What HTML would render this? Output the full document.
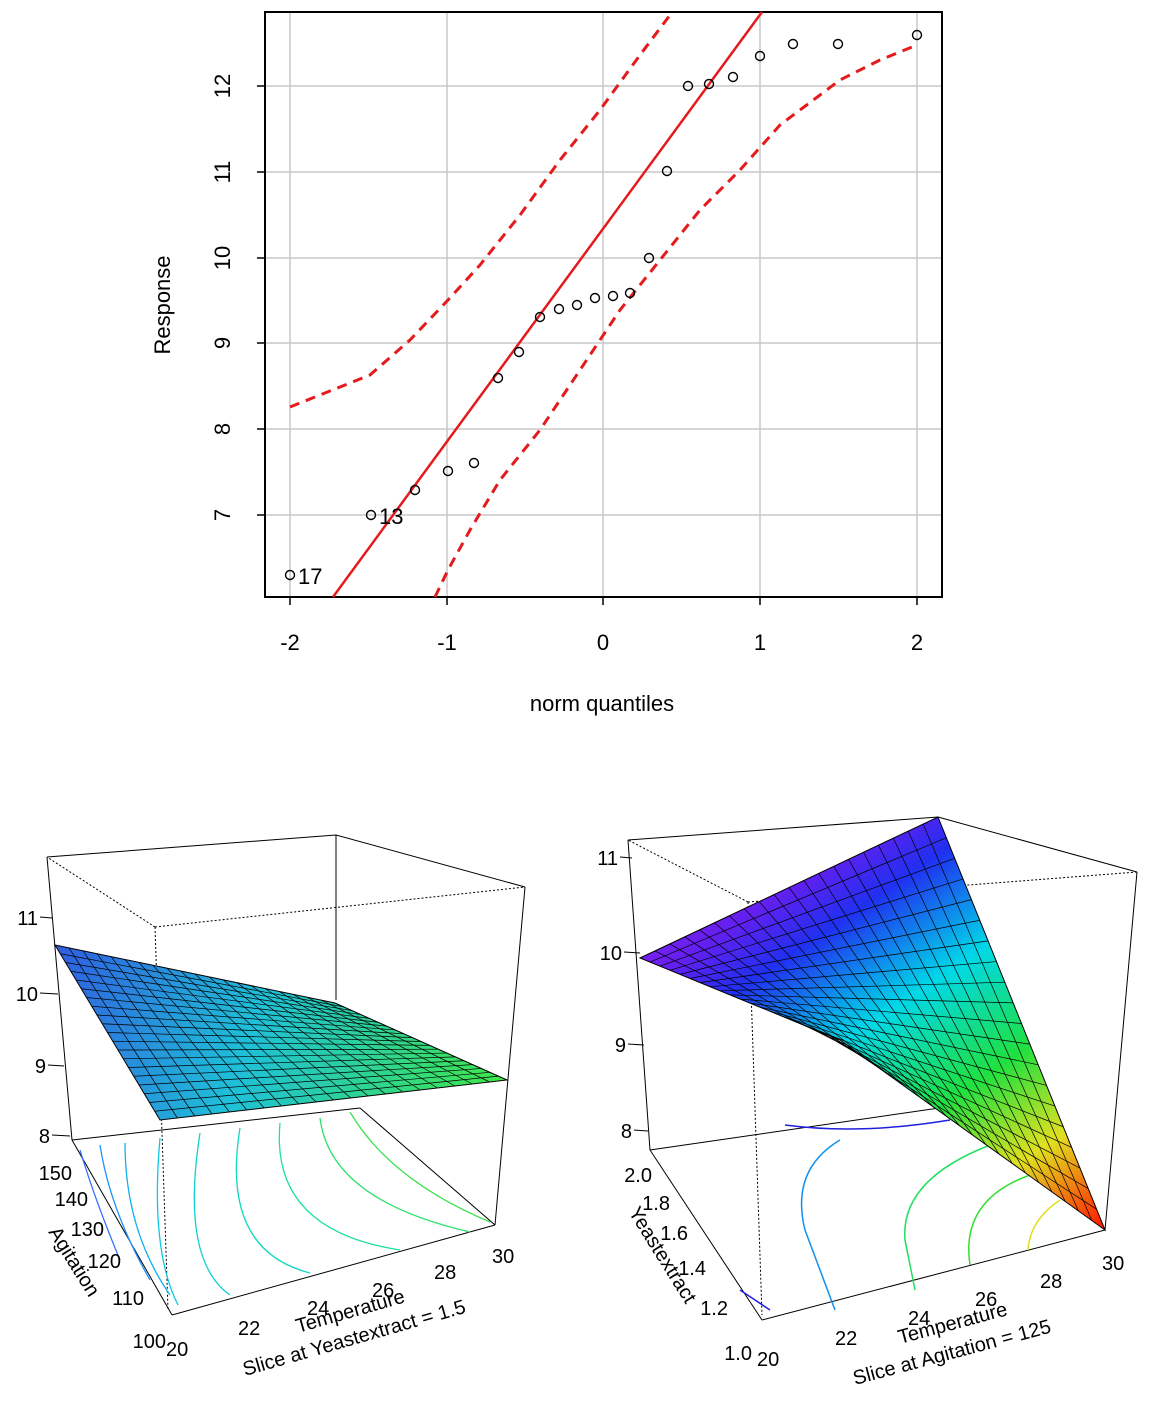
<!DOCTYPE html>
<html><head><meta charset="utf-8"><style>
html,body{margin:0;padding:0;background:#fff}
svg{display:block;font-family:"Liberation Sans",Arial,sans-serif}
</style></head><body>
<svg width="1170" height="1410" viewBox="0 0 1170 1410" xmlns="http://www.w3.org/2000/svg">
<defs>
<linearGradient id="gl" gradientUnits="userSpaceOnUse" x1="60" y1="950" x2="500" y2="1090">
<stop offset="0" stop-color="#2f5fe0"/><stop offset="0.45" stop-color="#1fc0d8"/><stop offset="1" stop-color="#3ee84a"/></linearGradient>
<linearGradient id="gr" gradientUnits="userSpaceOnUse" x1="800" y1="780" x2="1100" y2="1225">
<stop offset="0" stop-color="#a020f0"/><stop offset="0.16" stop-color="#6020f0"/><stop offset="0.26" stop-color="#2030f0"/><stop offset="0.45" stop-color="#00d8e8"/><stop offset="0.65" stop-color="#20e040"/><stop offset="0.82" stop-color="#e0e020"/><stop offset="1" stop-color="#ff2000"/></linearGradient>
</defs>
<g stroke="#c8c8c8" stroke-width="1.5">
<line x1="290" y1="12" x2="290" y2="597"/><line x1="447" y1="12" x2="447" y2="597"/><line x1="603" y1="12" x2="603" y2="597"/><line x1="760" y1="12" x2="760" y2="597"/><line x1="917" y1="12" x2="917" y2="597"/>
<line x1="265" y1="86" x2="942" y2="86"/><line x1="265" y1="172" x2="942" y2="172"/><line x1="265" y1="258" x2="942" y2="258"/><line x1="265" y1="343" x2="942" y2="343"/><line x1="265" y1="429" x2="942" y2="429"/><line x1="265" y1="515" x2="942" y2="515"/>
</g>
<rect x="265" y="12" width="677" height="585" fill="none" stroke="#000" stroke-width="2"/>
<g stroke="#000" stroke-width="1.5">
<line x1="290" y1="597" x2="290" y2="605"/><line x1="447" y1="597" x2="447" y2="605"/><line x1="603" y1="597" x2="603" y2="605"/><line x1="760" y1="597" x2="760" y2="605"/><line x1="917" y1="597" x2="917" y2="605"/>
<line x1="257" y1="86" x2="265" y2="86"/><line x1="257" y1="172" x2="265" y2="172"/><line x1="257" y1="258" x2="265" y2="258"/><line x1="257" y1="343" x2="265" y2="343"/><line x1="257" y1="429" x2="265" y2="429"/><line x1="257" y1="515" x2="265" y2="515"/>
</g>
<g font-size="22" text-anchor="middle">
<text x="290" y="650">-2</text><text x="447" y="650">-1</text><text x="603" y="650">0</text><text x="760" y="650">1</text><text x="917" y="650">2</text>
<text x="602" y="711">norm quantiles</text>
</g>
<g font-size="22" text-anchor="middle">
<text transform="translate(230,86) rotate(-90)">12</text><text transform="translate(230,172) rotate(-90)">11</text><text transform="translate(230,258) rotate(-90)">10</text><text transform="translate(230,343) rotate(-90)">9</text><text transform="translate(230,429) rotate(-90)">8</text><text transform="translate(230,515) rotate(-90)">7</text>
<text transform="translate(170,305) rotate(-90)">Response</text>
</g>
<line x1="333" y1="597" x2="762" y2="12" stroke="#e41a1c" stroke-width="2.5"/>
<polyline fill="none" stroke="#e41a1c" stroke-width="3" stroke-dasharray="10,7" points="290,407 315,397 345,385 370,375 410,340 448,300 480,265 520,215 560,160 600,110 640,55 670,15"/>
<polyline fill="none" stroke="#e41a1c" stroke-width="3" stroke-dasharray="10,7" points="435,597 448,570 470,530 500,480 540,430 580,370 620,310 660,260 700,210 740,170 780,125 820,95 840,80 880,60 917,45"/>
<g fill="none" stroke="#000" stroke-width="1.4">
<circle cx="290" cy="575" r="4.5"/><circle cx="371" cy="515" r="4.5"/><circle cx="415" cy="490" r="4.5"/><circle cx="448" cy="471" r="4.5"/><circle cx="474" cy="463" r="4.5"/><circle cx="498" cy="378" r="4.5"/><circle cx="519" cy="352" r="4.5"/><circle cx="540" cy="317" r="4.5"/><circle cx="559" cy="309" r="4.5"/><circle cx="577" cy="305" r="4.5"/><circle cx="595" cy="298" r="4.5"/><circle cx="613" cy="296" r="4.5"/><circle cx="630" cy="293" r="4.5"/><circle cx="649" cy="258" r="4.5"/><circle cx="667" cy="171" r="4.5"/><circle cx="688" cy="86" r="4.5"/><circle cx="709" cy="84" r="4.5"/><circle cx="733" cy="77" r="4.5"/><circle cx="760" cy="56" r="4.5"/><circle cx="793" cy="44" r="4.5"/><circle cx="838" cy="44" r="4.5"/><circle cx="917" cy="35" r="4.5"/>
</g>
<text x="298" y="584" font-size="22">17</text><text x="379" y="524" font-size="22">13</text>

<!-- left 3D -->
<g stroke="#000" stroke-width="1" fill="none">
<polyline points="155,927 47,857" stroke-dasharray="2,2"/>
<polyline points="155,927 525,887" stroke-dasharray="2,2"/>
<polyline points="155,927 168,1310" stroke-dasharray="2,2"/>
<polyline points="47,857 336,835 525,887"/>
<line x1="336" y1="835" x2="336" y2="1000"/>
<line x1="47" y1="857" x2="72" y2="1140"/>
<line x1="525" y1="887" x2="495" y2="1225"/>
<line x1="72" y1="1140" x2="172" y2="1315"/>
<line x1="172" y1="1315" x2="495" y2="1225"/>
<line x1="72" y1="1140" x2="360" y2="1108"/>
<line x1="360" y1="1108" x2="495" y2="1225"/>
</g>
<g stroke-width="1.3" fill="none">
<path d="M80,1150 Q95,1200 120,1260" stroke="#3070ff"/>
<path d="M100,1145 Q110,1210 150,1280" stroke="#2090ff"/>
<path d="M125,1143 Q125,1230 170,1295" stroke="#10b0f0"/>
<path d="M160,1138 Q150,1250 178,1305" stroke="#10c8e0"/>
<path d="M200,1133 Q180,1260 230,1295" stroke="#10d0d0"/>
<path d="M240,1128 Q220,1250 310,1273" stroke="#10d8c0"/>
<path d="M280,1123 Q270,1230 400,1250" stroke="#20e0a0"/>
<path d="M320,1118 Q330,1200 470,1232" stroke="#30e070"/>
<path d="M350,1112 Q390,1180 490,1222" stroke="#40e050"/>
</g>
<polygon points="55,945 335,1003 507,1080 160,1120" fill="url(#gl)" stroke="#000"/>
<g stroke="#000" stroke-width="0.7" fill="none">
<path d="M69,947.9L177.35,1118M83,950.8L194.7,1116M97,953.7L212,1114M111,956.6L229.4,1112M125,959.5L246.75,1110M139,962.4L264.1,1108M153,965.3L281.45,1106M167,968.2L298.8,1104M181,971.1L316.15,1102M195,974L333.5,1100M209,976.9L350.85,1098M223,979.8L368.2,1096M237,982.7L385.55,1094M251,985.6L402.9,1092M265,988.5L420.25,1090M279,991.4L437.6,1088M293,994.3L454.95,1086M307,997.2L472.3,1084M321,1000.1L489.65,1082"/>
<path d="M60.25,953.75L343.6,1006.85M65.5,962.5L352.2,1010.7M70.75,971.25L360.8,1014.55M76,980L369.4,1018.4M81.25,988.75L378,1022.25M86.5,997.5L386.6,1026.1M91.75,1006.25L395.2,1029.95M97,1015L403.8,1033.8M102.25,1023.75L412.4,1037.65M107.5,1032.5L421,1041.5M112.75,1041.25L429.6,1045.35M118,1050L438.2,1049.2M123.25,1058.75L446.8,1053.05M128.5,1067.5L455.4,1056.9M133.75,1076.25L464,1060.75M139,1085L472.6,1064.6M144.25,1093.75L481.2,1068.45M149.5,1102.5L489.8,1072.3M154.75,1111.25L498.4,1076.15"/>
</g>
<g font-size="20" text-anchor="end">
<text x="38" y="925">11</text><text x="38" y="1001">10</text><text x="46" y="1073">9</text><text x="50" y="1143">8</text>
<text x="72" y="1180">150</text><text x="88" y="1206">140</text><text x="104" y="1236">130</text><text x="121" y="1268">120</text><text x="144" y="1305">110</text><text x="166" y="1348">100</text>
</g>
<g stroke="#000"><line x1="40" y1="917" x2="52" y2="918"/><line x1="40" y1="993" x2="58" y2="994"/><line x1="48" y1="1065" x2="64" y2="1066"/><line x1="52" y1="1135" x2="70" y2="1136"/></g>
<g font-size="20">
<text x="166" y="1356">20</text><text x="238" y="1335">22</text><text x="307" y="1315">24</text><text x="372" y="1297">26</text><text x="434" y="1279">28</text><text x="492" y="1263">30</text>
<text transform="translate(298,1333) rotate(-16)">Temperature</text>
<text transform="translate(245,1376) rotate(-16)">Slice at Yeastextract = 1.5</text>
<text transform="translate(48,1232) rotate(58)">Agitation</text>
</g>

<!-- right 3D -->
<g stroke="#000" stroke-width="1" fill="none">
<polyline points="748,902 628,840" stroke-dasharray="2,2"/>
<polyline points="748,902 1137,872" stroke-dasharray="2,2"/>
<polyline points="748,902 762,1315" stroke-dasharray="2,2"/>
<polyline points="628,840 938,817 1137,872"/>
<line x1="628" y1="840" x2="650" y2="1150"/>
<line x1="1137" y1="872" x2="1105" y2="1230"/>
<line x1="650" y1="1150" x2="762" y2="1320"/>
<line x1="762" y1="1320" x2="1105" y2="1230"/>
<line x1="650" y1="1150" x2="960" y2="1105"/>
</g>
<g stroke-width="1.5" fill="none">
<path d="M785,1125 Q860,1135 950,1120" stroke="#2020e0"/>
<path d="M840,1140 Q790,1170 805,1230 Q820,1270 835,1310" stroke="#1090f0"/>
<path d="M990,1145 Q900,1180 905,1240 L915,1290" stroke="#20e060"/>
<path d="M1030,1175 Q960,1200 970,1265" stroke="#30e030"/>
<path d="M1060,1200 Q1030,1220 1028,1250" stroke="#e0e020"/>
<path d="M740,1290 L770,1310" stroke="#2020e0"/>
</g>
<polygon points="640,958 938,817 1105,1230 840,1040" fill="url(#gr)" stroke="#000"/>
<g stroke="#000" stroke-width="0.7" fill="none">
<path d="M654.9,950.95L853.25,1049.5M669.8,943.9L866.5,1059M684.7,936.85L879.75,1068.5M699.6,929.8L893,1078M714.5,922.75L906.25,1087.5M729.4,915.7L919.5,1097M744.3,908.65L932.75,1106.5M759.2,901.6L946,1116M774.1,894.55L959.25,1125.5M789,887.5L972.5,1135M803.9,880.45L985.75,1144.5M818.8,873.4L999,1154M833.7,866.35L1012.25,1163.5M848.6,859.3L1025.5,1173M863.5,852.25L1038.75,1182.5M878.4,845.2L1052,1192M893.3,838.15L1065.25,1201.5M908.2,831.1L1078.5,1211M923.1,824.05L1091.75,1220.5"/>
<path d="M650,962.1L946.35,837.65M660,966.2L954.7,858.3M670,970.3L963.05,878.95M680,974.4L971.4,899.6M690,978.5L979.75,920.25M700,982.6L988.1,940.9M710,986.7L996.45,961.55M720,990.8L1004.8,982.2M730,994.9L1013.15,1002.85M740,999L1021.5,1023.5M750,1003.1L1029.85,1044.15M760,1007.2L1038.2,1064.8M770,1011.3L1046.55,1085.45M780,1015.4L1054.9,1106.1M790,1019.5L1063.25,1126.75M800,1023.6L1071.6,1147.4M810,1027.7L1079.95,1168.05M820,1031.8L1088.3,1188.7M830,1035.9L1096.65,1209.35"/>
</g>
<g font-size="20" text-anchor="end">
<text x="618" y="865">11</text><text x="622" y="960">10</text><text x="626" y="1052">9</text><text x="632" y="1138">8</text>
<text x="652" y="1182">2.0</text><text x="670" y="1210">1.8</text><text x="688" y="1240">1.6</text><text x="706" y="1275">1.4</text><text x="728" y="1315">1.2</text><text x="752" y="1360">1.0</text>
</g>
<g stroke="#000"><line x1="620" y1="857" x2="632" y2="858"/><line x1="624" y1="952" x2="640" y2="953"/><line x1="628" y1="1044" x2="644" y2="1045"/><line x1="634" y1="1130" x2="648" y2="1131"/></g>
<g font-size="20">
<text x="757" y="1366">20</text><text x="835" y="1345">22</text><text x="908" y="1325">24</text><text x="975" y="1306">26</text><text x="1040" y="1288">28</text><text x="1102" y="1270">30</text>
<text transform="translate(900,1344) rotate(-15)">Temperature</text>
<text transform="translate(855,1385) rotate(-15)">Slice at Agitation = 125</text>
<text transform="translate(628,1212) rotate(58)">Yeastextract</text>
</g>
</svg>
</body></html>
